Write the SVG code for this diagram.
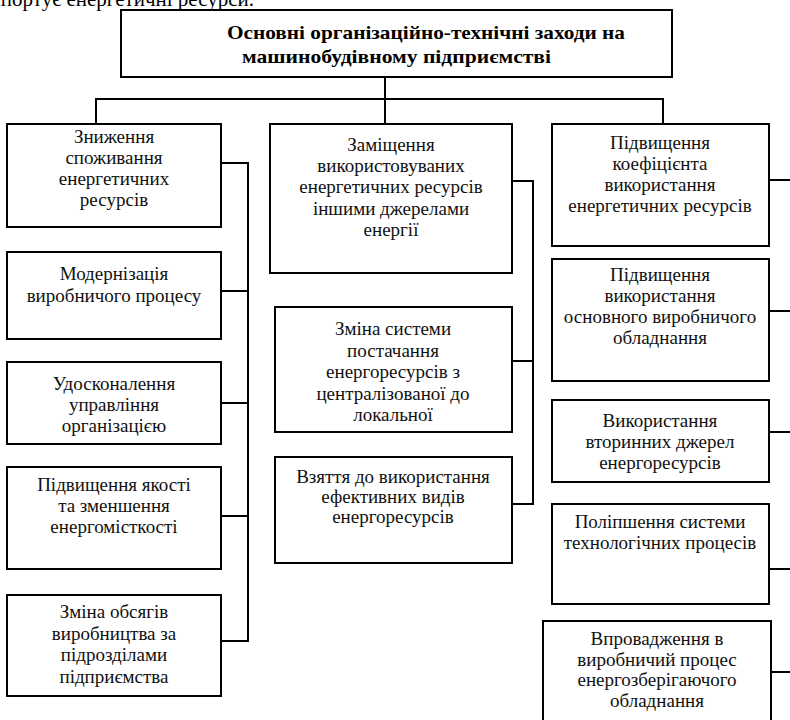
<svg xmlns="http://www.w3.org/2000/svg" width="790" height="720" viewBox="0 0 790 720">
<style>
.box{fill:#fff;stroke:#000;stroke-width:2}
.ln{fill:none;stroke:#000;stroke-width:2}
.t{font-family:"Liberation Serif","Times New Roman",serif;font-size:19px;text-anchor:middle;fill:#111}
.h{font-family:"Liberation Serif","Times New Roman",serif;font-size:19px;font-weight:bold;fill:#000}
</style>
<rect width="790" height="720" fill="#fff"/>
<text x="254" y="6" font-family="Liberation Serif, serif" font-size="21" text-anchor="end" fill="#000">експортує енергетичні ресурси.</text>
<g id="connectors">
<path class="ln" d="M385 77V99M96 124V99H663V124M385 99V124"/>
<path class="ln" d="M221 163H248V641H221M221 291H248M221 403H248M221 516H248"/>
<path class="ln" d="M512 181H533V504H512M512 361H533"/>
<path class="ln" d="M769 180H790M769 311H790M769 432H790M769 569H790M771 672H790"/>
</g>
<g id="top">
<rect class="box" x="121" y="10" width="551" height="67"/>
<text class="h" x="227" y="39" textLength="398" lengthAdjust="spacingAndGlyphs">Основні організаційно-технічні заходи на</text>
<text class="h" x="242" y="63" textLength="309" lengthAdjust="spacingAndGlyphs">машинобудівному підприємстві</text>
</g>
<g id="l1"><rect class="box" x="7" y="124" width="214" height="103"/>
<text class="t" x="114" y="143">Зниження</text><text class="t" x="114" y="164">споживання</text><text class="t" x="114" y="185">енергетичних</text><text class="t" x="114" y="206">ресурсів</text></g>
<g id="l2"><rect class="box" x="7" y="252" width="214" height="87"/>
<text class="t" x="114" y="280">Модернізація</text><text class="t" x="114" y="302">виробничого процесу</text></g>
<g id="l3"><rect class="box" x="7" y="362" width="214" height="82"/>
<text class="t" x="114" y="390">Удосконалення</text><text class="t" x="114" y="411">управління</text><text class="t" x="114" y="432">організацією</text></g>
<g id="l4"><rect class="box" x="7" y="467" width="214" height="102"/>
<text class="t" x="114" y="491">Підвищення якості</text><text class="t" x="114" y="512">та зменшення</text><text class="t" x="114" y="533">енергомісткості</text></g>
<g id="l5"><rect class="box" x="7" y="595" width="214" height="101"/>
<text class="t" x="114" y="618">Зміна обсягів</text><text class="t" x="114" y="640">виробництва за</text><text class="t" x="114" y="661">підрозділами</text><text class="t" x="114" y="683">підприємства</text></g>
<g id="m1"><rect class="box" x="270" y="124" width="242" height="149"/>
<text class="t" x="391" y="151">Заміщення</text><text class="t" x="391" y="172">використовуваних</text><text class="t" x="391" y="193">енергетичних ресурсів</text><text class="t" x="391" y="215">іншими джерелами</text><text class="t" x="391" y="236">енергії</text></g>
<g id="m2"><rect class="box" x="275" y="307" width="237" height="125"/>
<text class="t" x="393" y="335">Зміна системи</text><text class="t" x="393" y="357">постачання</text><text class="t" x="393" y="378">енергоресурсів з</text><text class="t" x="393" y="400">централізованої до</text><text class="t" x="393" y="421">локальної</text></g>
<g id="m3"><rect class="box" x="275" y="457" width="237" height="106"/>
<text class="t" x="393" y="483">Взяття до використання</text><text class="t" x="393" y="503">ефективних видів</text><text class="t" x="393" y="523">енергоресурсів</text></g>
<g id="r1"><rect class="box" x="552" y="124" width="217" height="122"/>
<text class="t" x="660" y="149">Підвищення</text><text class="t" x="660" y="170">коефіцієнта</text><text class="t" x="660" y="191">використання</text><text class="t" x="660" y="212">енергетичних ресурсів</text></g>
<g id="r2"><rect class="box" x="552" y="259" width="217" height="122"/>
<text class="t" x="660" y="281">Підвищення</text><text class="t" x="660" y="302">використання</text><text class="t" x="660" y="323">основного виробничого</text><text class="t" x="660" y="344">обладнання</text></g>
<g id="r3"><rect class="box" x="552" y="400" width="217" height="82"/>
<text class="t" x="660" y="427">Використання</text><text class="t" x="660" y="448">вторинних джерел</text><text class="t" x="660" y="469">енергоресурсів</text></g>
<g id="r4"><rect class="box" x="552" y="504" width="217" height="100"/>
<text class="t" x="660" y="528">Поліпшення системи</text><text class="t" x="660" y="549">технологічних процесів</text></g>
<g id="r5"><rect class="box" x="543" y="621" width="228" height="110"/>
<text class="t" x="657" y="645">Впровадження в</text><text class="t" x="657" y="666">виробничий процес</text><text class="t" x="657" y="686">енергозберігаючого</text><text class="t" x="657" y="707">обладнання</text></g>
</svg>
